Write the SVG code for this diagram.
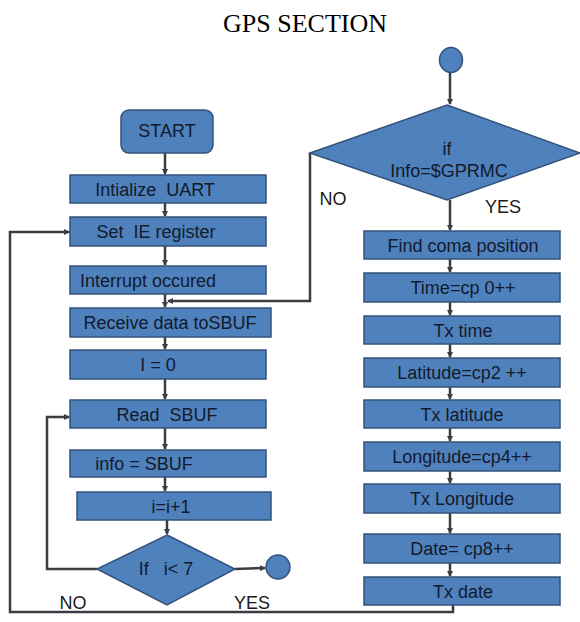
<svg xmlns="http://www.w3.org/2000/svg" width="580" height="622" viewBox="0 0 580 622">
<style>
.box{fill:#4f81bd;stroke:#33527a;stroke-width:1.5}
.lbl{font-family:"Liberation Sans",Arial,sans-serif;font-size:18px;fill:#131a2c;text-anchor:middle;white-space:pre}
.cap{font-family:"Liberation Sans",Arial,sans-serif;font-size:18px;fill:#1b1b1b;text-anchor:middle}
.ln{fill:none;stroke:#3a3d44;stroke-width:2.5}
.title{font-family:"Liberation Serif","Times New Roman",serif;font-size:26px;fill:#000;text-anchor:middle}
</style>
<defs>
<marker id="ah" markerWidth="6" markerHeight="6" refX="5" refY="3" orient="auto" markerUnits="userSpaceOnUse">
<path d="M0,0 L6,3 L0,6 z" fill="#3a3d44"/>
</marker>
</defs>
<rect width="580" height="622" fill="#fff"/>
<text class="title" x="305" y="32">GPS SECTION</text>

<g id="connectors">
<line class="ln" x1="165" y1="153" x2="165" y2="174" marker-end="url(#ah)"/>
<line class="ln" x1="165" y1="203" x2="165" y2="216" marker-end="url(#ah)"/>
<line class="ln" x1="165" y1="246" x2="165" y2="265" marker-end="url(#ah)"/>
<line class="ln" x1="165" y1="294" x2="165" y2="307" marker-end="url(#ah)"/>
<line class="ln" x1="165" y1="337" x2="165" y2="349" marker-end="url(#ah)"/>
<line class="ln" x1="165" y1="379" x2="165" y2="399" marker-end="url(#ah)"/>
<line class="ln" x1="165" y1="428" x2="165" y2="449" marker-end="url(#ah)"/>
<line class="ln" x1="165" y1="477" x2="165" y2="491" marker-end="url(#ah)"/>
<line class="ln" x1="167" y1="520" x2="167" y2="534" marker-end="url(#ah)"/>
<line class="ln" x1="235" y1="569" x2="265" y2="568" marker-end="url(#ah)"/>
<polyline class="ln" points="97,569 47,569 47,417 69,417" marker-end="url(#ah)"/>
<polyline class="ln" points="453,605 453,612 10,612 10,232 69,232" marker-end="url(#ah)"/>
<polyline class="ln" points="310,153 310,301 168,301" marker-end="url(#ah)"/>
<line class="ln" x1="450" y1="73" x2="450" y2="104" marker-end="url(#ah)"/>
<line class="ln" x1="450" y1="200" x2="450" y2="230" marker-end="url(#ah)"/>
<line class="ln" x1="450" y1="259" x2="450" y2="272" marker-end="url(#ah)"/>
<line class="ln" x1="450" y1="302" x2="450" y2="315" marker-end="url(#ah)"/>
<line class="ln" x1="450" y1="344" x2="450" y2="357" marker-end="url(#ah)"/>
<line class="ln" x1="450" y1="387" x2="450" y2="399" marker-end="url(#ah)"/>
<line class="ln" x1="450" y1="428" x2="450" y2="441" marker-end="url(#ah)"/>
<line class="ln" x1="450" y1="471" x2="450" y2="483" marker-end="url(#ah)"/>
<line class="ln" x1="450" y1="513" x2="450" y2="533" marker-end="url(#ah)"/>
<line class="ln" x1="450" y1="563" x2="450" y2="576" marker-end="url(#ah)"/>
</g>

<g id="start"><rect class="box" x="121" y="110" width="92" height="43" rx="8"/><text class="lbl" x="167" y="137">START</text></g>
<g id="init-uart"><rect class="box" x="70" y="175" width="196" height="28"/><text class="lbl" x="155" y="196">Intialize  UART</text></g>
<g id="set-ie"><rect class="box" x="70" y="217" width="196" height="29"/><text class="lbl" x="156" y="238">Set  IE register</text></g>
<g id="interrupt"><rect class="box" x="70" y="266" width="196" height="28"/><text class="lbl" x="148" y="287">Interrupt occured</text></g>
<g id="receive"><rect class="box" x="70" y="308" width="201" height="29"/><text class="lbl" x="170" y="329">Receive data toSBUF</text></g>
<g id="i0"><rect class="box" x="70" y="350" width="196" height="29"/><text class="lbl" x="158" y="371">I = 0</text></g>
<g id="read-sbuf"><rect class="box" x="70" y="400" width="196" height="28"/><text class="lbl" x="167" y="421">Read  SBUF</text></g>
<g id="info-sbuf"><rect class="box" x="70" y="450" width="196" height="27"/><text class="lbl" x="144" y="470">info = SBUF</text></g>
<g id="inc"><rect class="box" x="77" y="492" width="194" height="28"/><text class="lbl" x="171" y="513">i=i+1</text></g>
<g id="if-i7"><polygon class="box" points="167,535 235,569 167,605 97,569"/><text class="lbl" x="166" y="575">If   i&lt; 7</text></g>
<g id="conn-out"><circle class="box" cx="278" cy="567" r="12"/></g>
<g id="lbl-no-left"><text class="cap" x="73" y="609">NO</text></g>
<g id="lbl-yes-left"><text class="cap" x="252" y="609">YES</text></g>

<g id="conn-in"><ellipse class="box" cx="451" cy="60" rx="11.5" ry="12.5"/></g>
<g id="if-gprmc"><polygon class="box" points="447,105 580,153 447,200 310,153"/><text class="lbl" x="447" y="155">if</text><text class="lbl" x="449" y="177">Info=$GPRMC</text></g>
<g id="lbl-no-right"><text class="cap" x="333" y="205">NO</text></g>
<g id="lbl-yes-right"><text class="cap" x="503" y="213">YES</text></g>
<g id="find-coma"><rect class="box" x="364" y="231" width="196" height="28"/><text class="lbl" x="463" y="252">Find coma position</text></g>
<g id="time"><rect class="box" x="364" y="273" width="196" height="29"/><text class="lbl" x="463" y="294">Time=cp 0++</text></g>
<g id="tx-time"><rect class="box" x="364" y="316" width="196" height="28"/><text class="lbl" x="463" y="337">Tx time</text></g>
<g id="latitude"><rect class="box" x="364" y="358" width="196" height="29"/><text class="lbl" x="462" y="379">Latitude=cp2 ++</text></g>
<g id="tx-lat"><rect class="box" x="364" y="400" width="196" height="28"/><text class="lbl" x="462" y="421">Tx latitude</text></g>
<g id="longitude"><rect class="box" x="364" y="442" width="196" height="29"/><text class="lbl" x="462" y="463">Longitude=cp4++</text></g>
<g id="tx-long"><rect class="box" x="364" y="484" width="196" height="29"/><text class="lbl" x="462" y="505">Tx Longitude</text></g>
<g id="date"><rect class="box" x="364" y="534" width="196" height="29"/><text class="lbl" x="462" y="555">Date= cp8++</text></g>
<g id="tx-date"><rect class="box" x="364" y="577" width="196" height="28"/><text class="lbl" x="463" y="598">Tx date</text></g>
</svg>
